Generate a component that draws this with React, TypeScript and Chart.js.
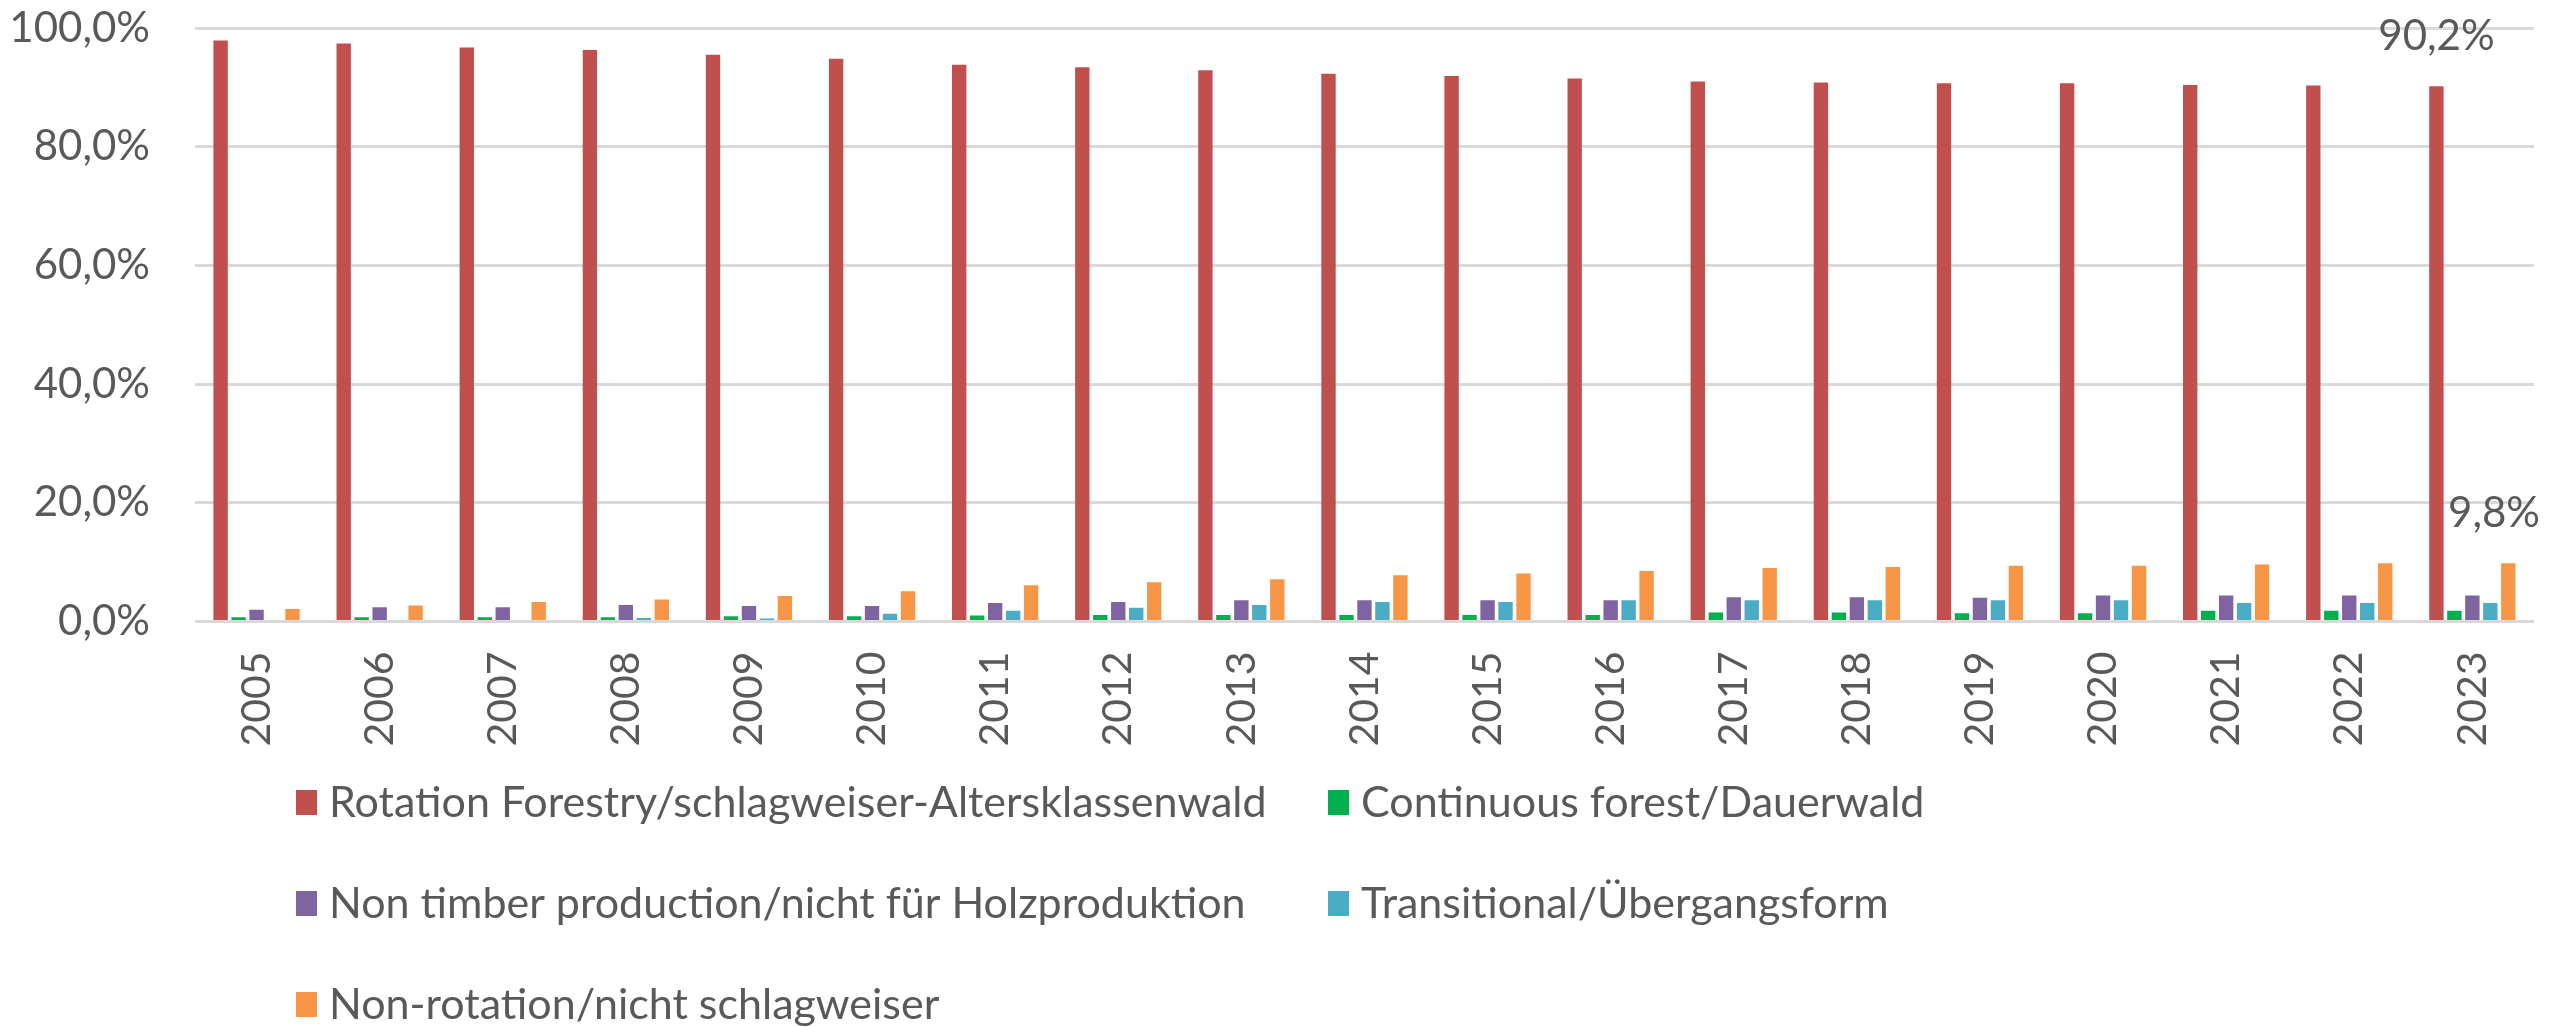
import { useEffect, useRef } from 'react';
import { Chart, registerables } from 'chart.js';

Chart.register(...registerables);

const years = ['2005', '2006', '2007', '2008', '2009', '2010', '2011', '2012', '2013', '2014', '2015', '2016', '2017', '2018', '2019', '2020', '2021', '2022', '2023'];
const rotationForestry = [97.9, 97.4, 96.7, 96.3, 95.5, 94.8, 93.8, 93.4, 92.9, 92.3, 91.9, 91.5, 91.0, 90.8, 90.7, 90.7, 90.4, 90.3, 90.2];
const continuousForest = [0.7, 0.7, 0.7, 0.7, 0.9, 0.9, 1.0, 1.1, 1.1, 1.1, 1.1, 1.1, 1.5, 1.5, 1.4, 1.4, 1.8, 1.8, 1.8];
const nonTimber = [2.0, 2.4, 2.4, 2.8, 2.6, 2.6, 3.1, 3.3, 3.6, 3.6, 3.6, 3.6, 4.1, 4.1, 4.0, 4.4, 4.4, 4.4, 4.4];
const transitional = [0, 0, 0, 0.6, 0.5, 1.3, 1.8, 2.3, 2.8, 3.3, 3.3, 3.6, 3.6, 3.6, 3.6, 3.6, 3.1, 3.1, 3.1];
const nonRotation = [2.1, 2.7, 3.3, 3.7, 4.3, 5.1, 6.1, 6.6, 7.1, 7.8, 8.1, 8.5, 9.0, 9.2, 9.4, 9.4, 9.6, 9.8, 9.8];

const seriesNames = [
  'Rotation Forestry/schlagweiser-Altersklassenwald',
  'Continuous forest/Dauerwald',
  'Non timber production/nicht für Holzproduktion',
  'Transitional/Übergangsform',
  'Non-rotation/nicht schlagweiser',
];
const seriesColors = ['#C0504D', '#00B050', '#8064A2', '#4BACC6', '#F79646'];
const yMin = 0;
const yMax = 100;
const yStep = 20;
// datasets whose last value carries a data label
const labelledSeries = [0, 4];

const FONT = 'Lato';
const TEXT = '#595959';

const fmt = (v: number) => v.toFixed(1).replace('.', ',') + '%';

export default function App() {
  const ref = useRef<HTMLCanvasElement>(null);

  useEffect(() => {
    document.body.style.margin = '0';
    const canvas = ref.current;
    if (!canvas) return;

    const gridLegend = {
      id: 'gridLegend',
      afterDraw(chart: any) {
        const ctx = chart.ctx;
        ctx.save();
        ctx.font = `43px ${FONT}`;
        ctx.textBaseline = 'middle';
        ctx.textAlign = 'left';
        const cols = [296, 1328];
        const rows = [802, 903, 1004];
        chart.data.datasets.forEach((ds: any, i: number) => {
          const x = cols[i % 2];
          const y = rows[Math.floor(i / 2)];
          ctx.fillStyle = ds.backgroundColor;
          ctx.fillRect(x, y - 12, 21, 25);
          ctx.fillStyle = TEXT;
          ctx.fillText(ds.label, x + 33, y + 1);
        });
        ctx.restore();
      },
    };

    const valueLabels = {
      id: 'valueLabels',
      afterDatasetsDraw(chart: any) {
        const ctx = chart.ctx;
        ctx.save();
        ctx.font = `42px ${FONT}`;
        ctx.textBaseline = 'middle';
        ctx.textAlign = 'center';
        ctx.fillStyle = TEXT;
        labelledSeries.forEach((di) => {
          const meta = chart.getDatasetMeta(di);
          const data = chart.data.datasets[di].data;
          const last = data.length - 1;
          const el = meta.data[last];
          const text = fmt(data[last]);
          const w = ctx.measureText(text).width;
          const x = Math.min(el.x, chart.width - 12 - w / 2);
          ctx.fillText(text, x, el.y - 50);
        });
        ctx.restore();
      },
    };

    const series = [rotationForestry, continuousForest, nonTimber, transitional, nonRotation];

    const chart = new Chart(canvas, {
      type: 'bar',
      data: {
        labels: years,
        datasets: series.map((d, i) => ({
          label: seriesNames[i],
          data: d,
          backgroundColor: seriesColors[i],
          borderWidth: 0,
          categoryPercentage: 0.73,
          barPercentage: 0.8,
        })),
      },
      options: {
        animation: false,
        responsive: false,
        maintainAspectRatio: false,
        layout: { padding: { top: 28, right: 17, left: 0, bottom: 0 } },
        plugins: {
          legend: { display: false },
          tooltip: { enabled: false },
        },
        scales: {
          x: {
            grid: { display: false, drawTicks: false },
            border: { display: false },
            ticks: {
              font: { family: FONT, size: 41 },
              color: TEXT,
              minRotation: 90,
              maxRotation: 90,
              padding: 30,
              autoSkip: false,
            },
            afterFit: (s: any) => {
              s.height = 405.5;
            },
          },
          y: {
            min: yMin,
            max: yMax,
            ticks: {
              stepSize: yStep,
              callback: (v: any) => fmt(Number(v)),
              font: { family: FONT, size: 42 },
              color: TEXT,
              padding: 45,
            },
            grid: { color: '#d9d9d9', lineWidth: 3, drawTicks: false },
            border: { display: false },
            afterFit: (s: any) => {
              s.width = 195;
              s.paddingTop = 0;
              s.paddingBottom = 0;
            },
          },
        },
      },
      plugins: [gridLegend, valueLabels],
    });

    return () => chart.destroy();
  }, []);

  return (
    <canvas
      ref={ref}
      width={2552}
      height={1027}
      style={{ display: 'block', width: '2552px', height: '1027px' }}
    />
  );
}
